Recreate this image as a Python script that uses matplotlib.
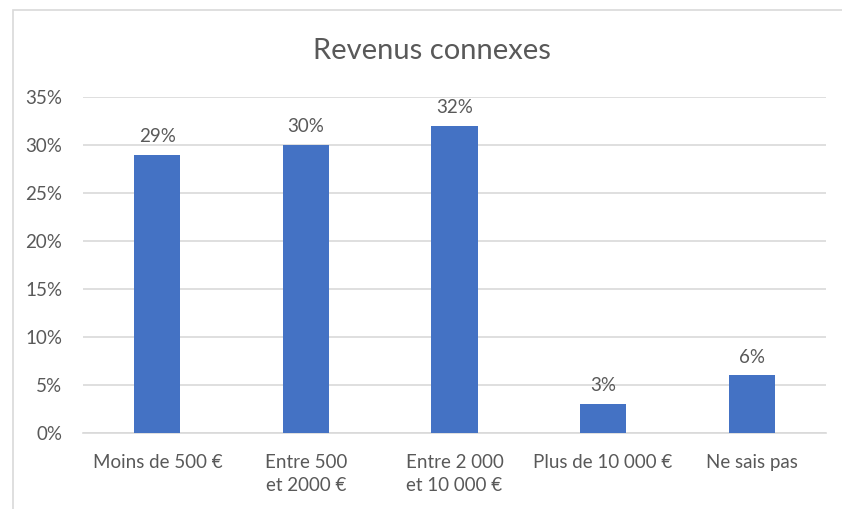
import matplotlib
matplotlib.use("Agg")
import matplotlib.pyplot as plt
from matplotlib.patches import Rectangle
from matplotlib.ticker import FuncFormatter

# Données du graphique
categories = ["Moins de 500 €", "Entre 500\net 2000 €", "Entre 2 000\net 10 000 €",
              "Plus de 10 000 €", "Ne sais pas"]
valeurs = [29, 30, 32, 3, 6]
graduations = [0, 5, 10, 15, 20, 25, 30, 35]

GRIS_TEXTE = "#595959"
GRIS_LIGNE = "#d9d9d9"
BLEU = "#4472c4"

plt.rcParams["font.family"] = ["Lato", "DejaVu Sans"]

fig = plt.figure(figsize=(8.42, 5.09), dpi=100)
ax = fig.add_axes([0.0986, 0.1493, 0.8824, 0.6601])

# Cadre du graphique
fig.patches.append(Rectangle((13 / 842, -0.1), 1.2, 1 - 10 / 509 + 0.1,
                             transform=fig.transFigure, fill=False,
                             edgecolor=GRIS_LIGNE, linewidth=1.2))

pos = range(len(categories))
barres = ax.bar(pos, valeurs, width=0.31, color=BLEU, zorder=3)
for b, v in zip(barres, valeurs):
    ax.annotate(f"{v}%", (b.get_x() + b.get_width() / 2, v),
                xytext=(0, 7), textcoords="offset points",
                ha="center", va="bottom", fontsize=13.5, color=GRIS_TEXTE)

ax.set_xlim(-0.5, len(categories) - 0.5)
ax.set_ylim(0, 35)
ax.set_yticks(graduations)
ax.yaxis.set_major_formatter(FuncFormatter(lambda y, _: f"{y:.0f}%"))
ax.set_xticks(list(pos))
ax.set_xticklabels(categories, linespacing=1.45)

ax.grid(axis="y", color=GRIS_LIGNE, linewidth=1.2, zorder=0)
for s in ["top", "right", "left"]:
    ax.spines[s].set_visible(False)
ax.spines["bottom"].set_color(GRIS_LIGNE)
ax.spines["bottom"].set_linewidth(1.2)
ax.tick_params(axis="both", length=0, labelsize=13.5, colors=GRIS_TEXTE)
ax.tick_params(axis="x", pad=15)
ax.tick_params(axis="y", pad=15)

fig.text(0.513, 0.9, "Revenus connexes", ha="center", va="center",
         fontsize=21, color=GRIS_TEXTE)

fig.savefig("out.png", dpi=100)
